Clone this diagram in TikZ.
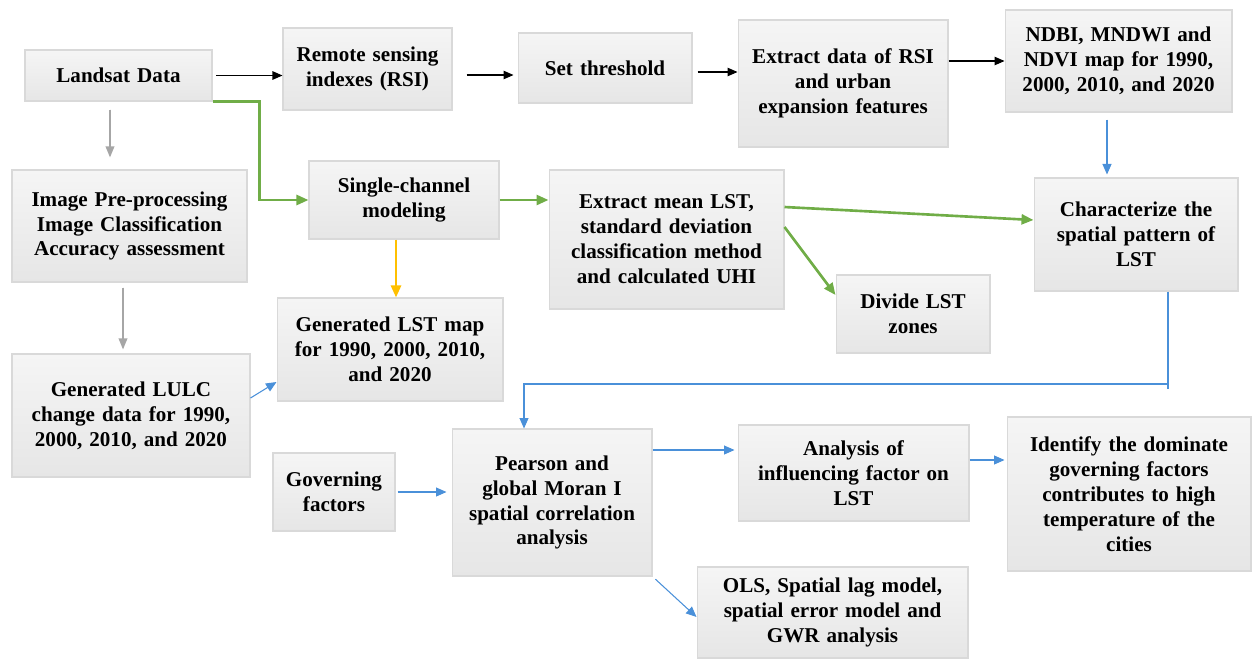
\documentclass[tikz,border=0pt]{standalone}
\usepackage{fontspec}
\setmainfont{Liberation Serif}
\usepackage{xcolor}
\usetikzlibrary{calc}
\usetikzlibrary{arrows.meta}

\definecolor{boxtop}{HTML}{F5F5F5}
\definecolor{boxbot}{HTML}{E6E6E6}
\definecolor{boxline}{HTML}{D9D9D9}
\definecolor{flowblue}{HTML}{4A90D9}
\definecolor{flowgreen}{HTML}{70AD47}
\definecolor{floworange}{HTML}{FFC000}
\definecolor{flowgray}{HTML}{A6A6A6}

\begin{document}
\begin{tikzpicture}[x=0.02cm, y=-0.02cm, font=\fontsize{12}{14.2}\selectfont\bfseries]
		\tikzstyle{block}=[draw=boxline, line width=0.6pt, rectangle, top color=boxtop, bottom color=boxbot, inner sep=0pt, align=center]
		\tikzstyle{blk}=[draw=black, line width=0.6pt, -{Triangle[length=0.2cm, width=0.17cm]}]
		\tikzstyle{gry}=[draw=flowgray, line width=1pt, -{Triangle[length=0.22cm, width=0.17cm]}, fill=flowgray]
		\tikzstyle{grn}=[draw=flowgreen, line width=1.5pt, -{Triangle[length=0.24cm, width=0.2cm]}]
		\tikzstyle{org}=[draw=floworange, line width=1.5pt, -{Triangle[length=0.24cm, width=0.2cm]}]
		\tikzstyle{blu}=[draw=flowblue, line width=0.6pt, -{Triangle[length=0.21cm, width=0.18cm]}]

		\useasboundingbox (0,0) rectangle (1256,660);

		% top row
		\node[block, text width=3.74cm, minimum height=1.02cm] (landsat) at (118.5,75.5) {Landsat Data};
		\node[block, text width=3.38cm, minimum height=1.64cm] (rsi) at (367.5,69) {Remote sensing\\indexes (RSI)};
		\node[block, text width=3.48cm, minimum height=1.4cm] (thresh) at (605,68) {Set threshold};
		\node[block, text width=4.2cm, minimum height=2.54cm] (extract) at (843,83.5) {Extract data of RSI\\and urban\\expansion features};
		\node[block, text width=4.54cm, minimum height=2.04cm] (ndbi) at (1118.5,61) {NDBI, MNDWI and\\NDVI map for 1990,\\2000, 2010, and 2020};

		% middle
		\node[block, text width=4.7cm, minimum height=2.24cm] (preproc) at (129.5,226) {Image Pre-processing\\Image Classification\\Accuracy assessment};
		\node[block, text width=3.8cm, minimum height=1.56cm] (single) at (404,200) {Single-channel\\modeling};
		\node[block, text width=4.7cm, minimum height=2.78cm] (meanlst) at (666.5,239.5) {Extract mean LST,\\standard deviation\\classification method\\and calculated UHI};
		\node[block, text width=4.08cm, minimum height=2.26cm] (charact) at (1136,234.5) {Characterize the\\spatial pattern of\\LST};
		\node[block, text width=3.08cm, minimum height=1.56cm] (divide) at (913,314) {Divide LST\\zones};
		\node[block, text width=4.52cm, minimum height=2.06cm] (lstmap) at (390,349.5) {Generated LST map\\for 1990, 2000, 2010,\\and 2020};
		\node[block, text width=4.76cm, minimum height=2.46cm] (lulc) at (131,415.5) {Generated LULC\\change data for 1990,\\2000, 2010, and 2020};

		% bottom
		\node[block, text width=2.44cm, minimum height=1.56cm] (govern) at (334,492) {Governing\\factors};
		\node[block, text width=4cm, minimum height=2.94cm] (pearson) at (552,502.5) {Pearson and\\global Moran I\\spatial correlation\\analysis};
		\node[block, text width=4.62cm, minimum height=1.92cm] (analysis) at (853.5,473) {Analysis of\\influencing factor on\\LST};
		\node[block, text width=4.88cm, minimum height=3.08cm] (identify) at (1129,494) {Identify the dominate\\governing factors\\contributes to high\\temperature of the\\cities};
		\node[block, text width=5.42cm, minimum height=1.82cm] (ols) at (832.5,612.5) {OLS, Spatial lag model,\\spatial error model and\\GWR analysis};

		% black arrows
		\draw[blk, shorten <=2pt] (landsat.east) -- (landsat.east -| rsi.west);
		\draw[blk, shorten <=0.28cm, shorten >=0.08cm] (rsi.east |- 0,75) -- (thresh.west |- 0,75);
		\draw[blk, shorten <=0.1cm] (thresh.east |- 0,72) -- (extract.west |- 0,72);
		\draw[blk] (ndbi.west -| extract.east) -- (ndbi.west);

		% gray arrows
		\draw[gry, shorten <=0.16cm, shorten >=0.24cm] (landsat.south -| 110,0) -- (preproc.north -| 110,0);
		\draw[gry, shorten <=0.1cm, shorten >=0.08cm] (preproc.south -| 123,0) -- (lulc.north -| 123,0);

		% green arrows
		\draw[grn] (landsat.south east) -| ([xshift=-0.98cm]single.west) -- (single.west);
		\draw[grn] (single.east) -- (single.east -| meanlst.west);
		\draw[grn] ([yshift=0.65cm]meanlst.east) -- ([yshift=0.29cm]charact.west);
		\draw[grn] ([yshift=0.25cm]meanlst.east) -- ([yshift=0.38cm]divide.west);

		% orange arrow
		\draw[org] (single.south -| 396,0) -- (lstmap.north -| 396,0);

		% blue arrows
		\draw[blu] ([yshift=0.35cm]lulc.east) -- ([yshift=-0.65cm]lstmap.west);
		\draw[blu, shorten <=0.14cm, shorten >=0.06cm] (ndbi.south -| 1107,0) -- (charact.north -| 1107,0);
		\draw[blu] (charact.south -| 1168,0) -- (1168,384) -| (pearson.north -| 524,0);
		\draw[flowblue, line width=0.6pt] (1168,380) -- (1168,389);
		\draw[blu, shorten <=0.04cm, shorten >=0.1cm] (govern.east) -- (pearson.west |- govern.east);
		\draw[blu, shorten >=0.06cm] (pearson.east |- 0,450) -- (analysis.west |- 0,450);
		\draw[blu, shorten >=0.04cm] (analysis.east |- 0,460) -- (identify.west |- 0,460);
		\draw[blu, shorten <=0.08cm] (pearson.south east) -- ([yshift=-0.09cm]ols.west);
	\end{tikzpicture}
\end{document}
